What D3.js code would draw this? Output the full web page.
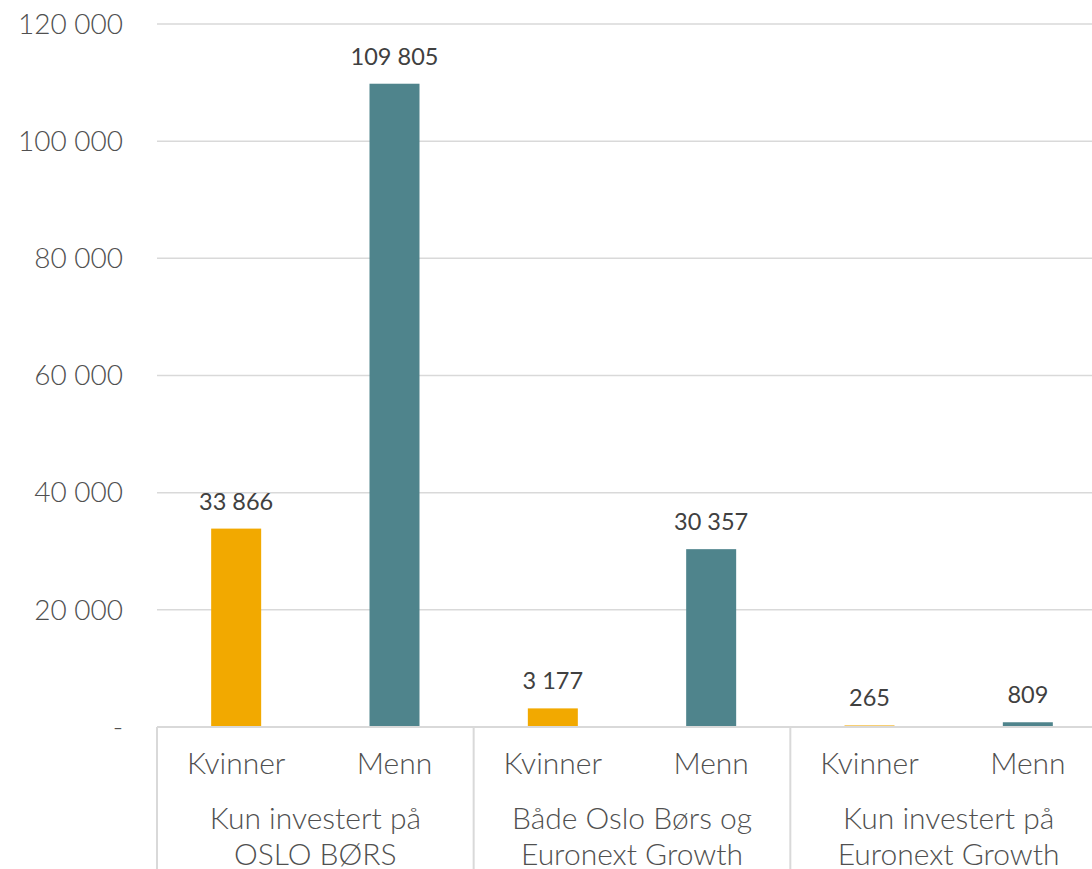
<!DOCTYPE html>
<html>
<head>
<meta charset="utf-8">
<script src="https://cdn.jsdelivr.net/npm/d3@7"></script>
<style>
  body { margin: 0; background: #fff; }
  text { font-family: Lato, "Open Sans", sans-serif; }
  .light { font-weight: 300; }
</style>
</head>
<body>
<div id="wrapper"></div>
<script>
const groups = [['Kun investert på', 'OSLO BØRS'], ['Både Oslo Børs og', 'Euronext Growth'], ['Kun investert på', 'Euronext Growth']]
const genders = ['Kvinner', 'Menn']
const values = [[33866, 109805], [3177, 30357], [265, 809]]
const yTicks = [0, 20000, 40000, 60000, 80000, 100000, 120000]
const colors = { Kvinner: '#f2a900', Menn: '#4f848c' }

function fmt (v) {
  if (v === 0) return '-'
  return d3.format(',')(v).replace(/,/g, ' ')
}

function renderChart (wrapper) {
  const width = 1092
  const height = 869
  const left = 157
  const top = 24
  const bottom = 727
  const plotRight = 1107

  const svg = d3.select(wrapper).append('svg')
    .attr('width', width)
    .attr('height', height)

  const y = d3.scaleLinear().domain([0, 120000]).range([bottom, top])
  const xGroup = d3.scaleBand().domain(d3.range(groups.length)).range([left, plotRight])
  const xSub = d3.scaleBand().domain(genders).range([0, xGroup.bandwidth()])

  // gridlines
  svg.selectAll('line.grid').data(yTicks.filter(d => d > 0))
    .enter().append('line')
    .attr('class', 'grid')
    .attr('x1', left).attr('x2', plotRight)
    .attr('y1', d => y(d)).attr('y2', d => y(d))
    .attr('stroke', '#d9d9d9').attr('stroke-width', 1.5)

  // y labels
  svg.selectAll('text.ytick').data(yTicks)
    .enter().append('text')
    .attr('class', 'ytick light')
    .attr('x', 123)
    .attr('y', d => y(d))
    .attr('dy', '0.35em')
    .attr('text-anchor', 'end')
    .attr('fill', '#505050')
    .style('font-size', '28px')
    .text(fmt)

  // bars
  const barW = 50
  const rows = []
  values.forEach((pair, gi) => {
    pair.forEach((v, si) => rows.push({ gi, gender: genders[si], v }))
  })
  const cx = d => xGroup(d.gi) + xSub(d.gender) + xSub.bandwidth() / 2

  svg.selectAll('rect.bar').data(rows)
    .enter().append('rect')
    .attr('class', 'bar')
    .attr('x', d => cx(d) - barW / 2)
    .attr('width', barW)
    .attr('y', d => y(d.v))
    .attr('height', d => bottom - y(d.v))
    .attr('fill', d => colors[d.gender])

  svg.selectAll('text.val').data(rows)
    .enter().append('text')
    .attr('class', 'val')
    .attr('x', d => cx(d))
    .attr('y', d => y(d.v) - 19)
    .attr('text-anchor', 'middle')
    .attr('fill', '#404040')
    .style('font-size', '23.5px')
    .text(d => fmt(d.v))

  // x axis line
  svg.append('line')
    .attr('x1', left).attr('x2', plotRight)
    .attr('y1', bottom).attr('y2', bottom)
    .attr('stroke', '#d9d9d9').attr('stroke-width', 2)

  // group separators
  svg.selectAll('line.sep').data(d3.range(groups.length + 1))
    .enter().append('line')
    .attr('class', 'sep')
    .attr('x1', d => left + d * xGroup.bandwidth())
    .attr('x2', d => left + d * xGroup.bandwidth())
    .attr('y1', bottom).attr('y2', height)
    .attr('stroke', '#d9d9d9').attr('stroke-width', 2)

  // category labels
  svg.selectAll('text.cat').data(rows)
    .enter().append('text')
    .attr('class', 'cat light')
    .attr('x', d => cx(d))
    .attr('y', 774)
    .attr('text-anchor', 'middle')
    .attr('fill', '#505050')
    .style('font-size', '30px')
    .text(d => d.gender)

  // group labels
  const gl = svg.selectAll('text.grp').data(groups)
    .enter().append('text')
    .attr('class', 'grp light')
    .attr('text-anchor', 'middle')
    .attr('fill', '#505050')
    .style('font-size', '30px')
  gl.selectAll('tspan').data((d, i) => d.map(t => ({ t, i })))
    .enter().append('tspan')
    .attr('x', d => xGroup(d.i) + xGroup.bandwidth() / 2)
    .attr('y', (d, j) => 829 + j * 36)
    .text(d => d.t)
}

renderChart(document.querySelector('#wrapper'))
</script>
</body>
</html>
